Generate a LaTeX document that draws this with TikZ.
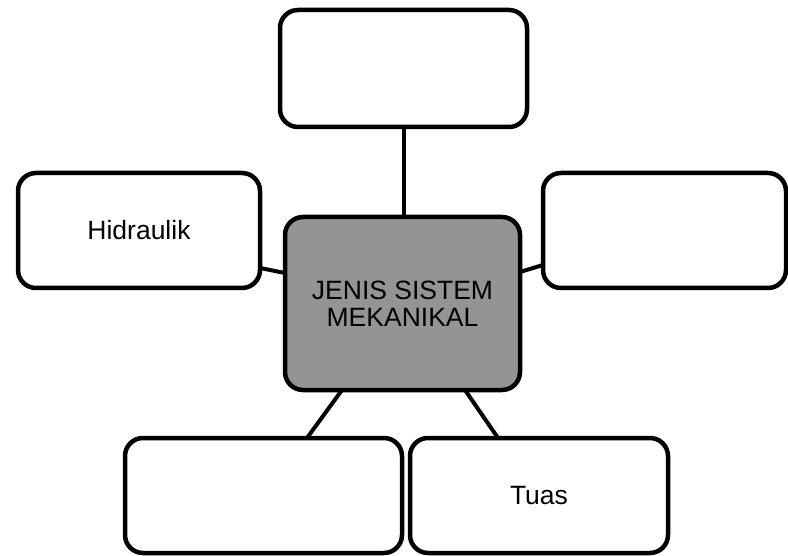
\documentclass[tikz,border=0pt]{standalone}
\usepackage{fontspec}
\setmainfont{Liberation Sans}
\begin{document}
\begin{tikzpicture}[x=1pt,y=-1pt,
  box/.style={draw=black, line width=4.5pt, rounded corners=18pt, fill=white,
    inner sep=0pt, outer sep=0pt, align=center,
    font=\fontsize{26.5}{27}\selectfont},
  hub/.style={box, fill=black!42},
  link/.style={draw=black, line width=4pt}]
\useasboundingbox (0,0) rectangle (788,556);
\node[box, minimum width=247pt, minimum height=117pt] (top) at (403.5,68.5) {};
\node[box, minimum width=242pt, minimum height=115pt] (left) at (139,230.5) {Hidraulik};
\node[box, minimum width=243pt, minimum height=115pt] (right) at (664.5,230.5) {};
\node[hub, minimum width=235pt, minimum height=173pt] (hub) at (402.5,303.5) {JENIS SISTEM\\MEKANIKAL};
\node[box, minimum width=277pt, minimum height=115pt] (bl) at (263.5,495.5) {};
\node[box, minimum width=258pt, minimum height=115pt] (br) at (539,495.5) {Tuas};
\draw[link] (top.south) -- (top.south |- hub.north);
\draw[link] ([yshift=-37.5pt]left.east) -- ([yshift=30.5pt]hub.west);
\draw[link] ([yshift=31.5pt]hub.east) -- ([yshift=-34.5pt]right.west);
\draw[link] ([xshift=43.5pt]bl.north) -- ([xshift=-60.5pt]hub.south);
\draw[link] ([xshift=-41pt]br.north) -- ([xshift=62.5pt]hub.south);
\end{tikzpicture}
\end{document}
